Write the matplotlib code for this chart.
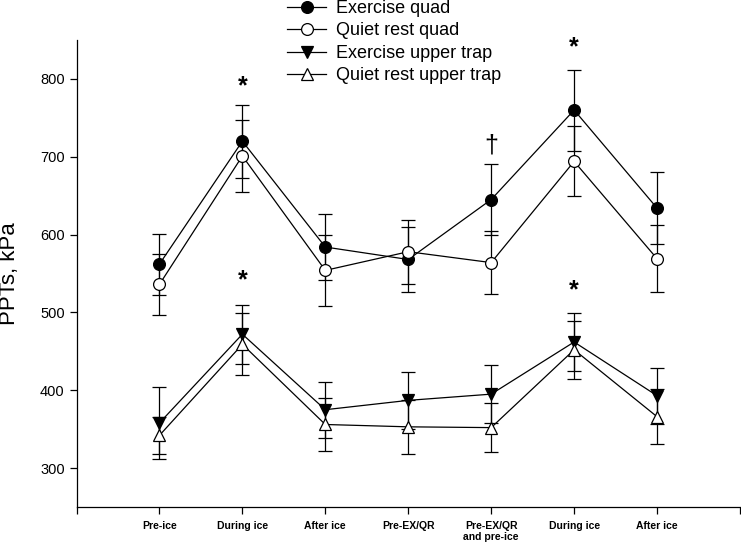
import numpy as np
import matplotlib
matplotlib.use('Agg')
import matplotlib.pyplot as plt

plt.rcParams['font.family'] = ['Liberation Sans', 'DejaVu Sans']

# Time points
labels = ['Pre-ice', 'During ice', 'After ice', 'Pre-EX/QR', 'Pre-EX/QR\nand pre-ice', 'During ice', 'After ice']
x = np.arange(1, len(labels) + 1)

# PPT means and SE (kPa)
ex_quad = [562, 720, 584, 568, 645, 760, 634]
ex_quad_se = [39, 47, 42, 42, 46, 52, 46]
qr_quad = [536, 701, 554, 578, 564, 694, 569]
qr_quad_se = [39, 46, 46, 41, 40, 45, 43]
ex_trap = [358, 472, 375, 387, 395, 462, 393]
ex_trap_se = [46, 38, 36, 37, 37, 37, 36]
qr_trap = [342, 459, 356, 353, 352, 452, 366]
qr_trap_se = [24, 40, 34, 35, 31, 37, 35]

# Significance marks: (x, y, symbol)
marks_x = [2, 2, 6, 6, 5]
marks_y = [790, 541, 840, 528, 714]
marks_txt = ['*', '*', '*', '*', '\u2020']

fig = plt.figure(figsize=(7.41, 5.43), dpi=100)
ax = fig.add_axes([76.5 / 741, 36 / 543, 663.5 / 741, 467 / 543])

series = [
    (ex_quad, ex_quad_se, 'o', 'black', 'Exercise quad'),
    (qr_quad, qr_quad_se, 'o', 'white', 'Quiet rest quad'),
    (ex_trap, ex_trap_se, 'v', 'black', 'Exercise upper trap'),
    (qr_trap, qr_trap_se, '^', 'white', 'Quiet rest upper trap'),
]
handles = []
for vals, se, mk, face, name in series:
    c = ax.errorbar(x, vals, yerr=se, color='black', lw=0.9, elinewidth=0.9,
                    capsize=5, capthick=0.9, marker=mk, ms=8.5, mfc=face,
                    mec='black', mew=0.9, label=name)
    handles.append(c[0])

for mx, my, t in zip(marks_x, marks_y, marks_txt):
    if t == '*':
        ax.text(mx, my, t, ha='center', va='center', fontsize=18, fontweight='bold')
    else:
        ax.text(mx, my, t, ha='center', va='center', fontsize=18)

ax.set_xlim(0, 8)
ax.set_ylim(250, 850)
ax.set_xticks(range(0, 9))
ax.set_xticklabels([''] + labels + [''], fontsize=7.5, fontweight='bold')
ax.set_yticks(range(300, 801, 100))
ax.tick_params(axis='y', labelsize=10.5, length=5, width=0.9)
ax.tick_params(axis='x', length=5, width=0.9, pad=5)
ax.spines['top'].set_visible(False)
ax.spines['right'].set_visible(False)
ax.spines['left'].set_linewidth(0.9)
ax.spines['bottom'].set_linewidth(0.9)

fig.text(0.013, 0.497, 'PPTs, kPa', rotation=90, ha='center', va='center', fontsize=16)

fig.legend(handles=handles, labels=[s[4] for s in series], loc='upper left',
           bbox_to_anchor=(286.7 / 741, 1.0), frameon=False, fontsize=13,
           handlelength=2.2, handletextpad=0.55, labelspacing=0.3,
           borderpad=0, borderaxespad=0)

fig.savefig('out.png', dpi=100)
